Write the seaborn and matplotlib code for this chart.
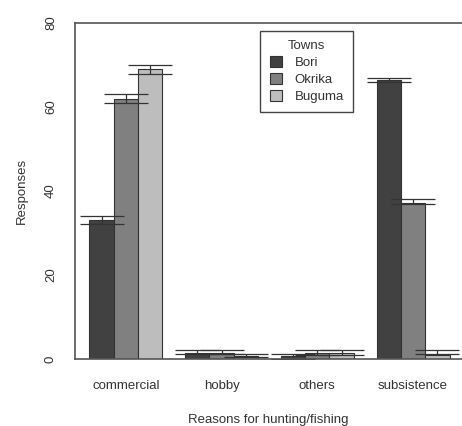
import pandas as pd
import seaborn as sns
import matplotlib.pyplot as plt

reasons = ["commercial", "hobby", "others", "subsistence"]
towns = ["Bori", "Okrika", "Buguma"]
bori = [33.0, 1.4, 0.6, 66.4]
okrika = [62.0, 1.4, 1.4, 37.2]
buguma = [69.0, 0.8, 1.4, 1.0]
# error bar ends (lower, upper)
bori_lo = [32.1, 1.2, 0.0, 65.9]
bori_hi = [34.0, 2.1, 1.2, 67.0]
okrika_lo = [61.0, 1.2, 0.95, 36.9]
okrika_hi = [63.0, 2.1, 2.1, 38.2]
buguma_lo = [67.9, 0.5, 0.95, 1.2]
buguma_hi = [70.0, 1.2, 2.1, 2.1]

colors = ["#414141", "#808080", "#bdbdbd"]
ink = "#333333"

rows = []
for town, vals in zip(towns, [bori, okrika, buguma]):
    for r, v in zip(reasons, vals):
        rows.append({"reason": r, "town": town, "value": v})
df = pd.DataFrame(rows)

sns.set_style("white")
plt.rcParams["font.family"] = ["Liberation Sans", "DejaVu Sans"]
plt.rcParams["text.color"] = ink
plt.rcParams["axes.labelcolor"] = ink
plt.rcParams["xtick.color"] = ink
plt.rcParams["ytick.color"] = ink

fig = plt.figure(figsize=(4.62, 4.26), dpi=100)
ax = fig.add_axes([75 / 462, 1 - 359 / 426, 1 - 75 / 462, (359 - 23) / 426])

sns.barplot(data=df, x="reason", y="value", hue="town", palette=colors,
            width=0.76, edgecolor=ink, linewidth=0.8, errorbar=None, ax=ax)

lows = [bori_lo, okrika_lo, buguma_lo]
highs = [bori_hi, okrika_hi, buguma_hi]
for cont, lo, hi in zip(ax.containers, lows, highs):
    xs = [p.get_x() + p.get_width() / 2 for p in cont]
    mid = [(a + b) / 2 for a, b in zip(lo, hi)]
    err = [(b - a) / 2 for a, b in zip(lo, hi)]
    ax.errorbar(xs, mid, yerr=err, fmt="none", ecolor=ink, elinewidth=0.9,
                capsize=15.5, capthick=0.9)

fs = 9.5
ax.set_xlim(-0.53, 3.51)
ax.set_ylim(0, 80)
ax.set_yticks([0, 20, 40, 60, 80])
ax.tick_params(axis="y", length=6, width=0.9, pad=7, labelsize=fs, labelrotation=90)
for lab in ax.get_yticklabels():
    lab.set_va("center")
ax.tick_params(axis="x", length=0, pad=15, labelsize=fs)
ax.set_xlabel("Reasons for hunting/fishing", fontsize=fs, labelpad=16)
ax.set_ylabel("Responses", fontsize=fs, labelpad=12)

for side in ["left", "top", "bottom"]:
    ax.spines[side].set_color("#555555")
    ax.spines[side].set_linewidth(1.2)
ax.spines["right"].set_visible(False)

handles, labels = ax.get_legend_handles_labels()
ax.legend(handles, labels, title="Towns", loc="upper left",
          bbox_to_anchor=(0.462, 0.997), fancybox=False, edgecolor="#444444",
          fontsize=fs, title_fontsize=fs, handlelength=0.9, handleheight=0.9,
          borderpad=0.7, labelspacing=0.3, handletextpad=1.0, framealpha=1)

plt.savefig("out.png", dpi=100)
